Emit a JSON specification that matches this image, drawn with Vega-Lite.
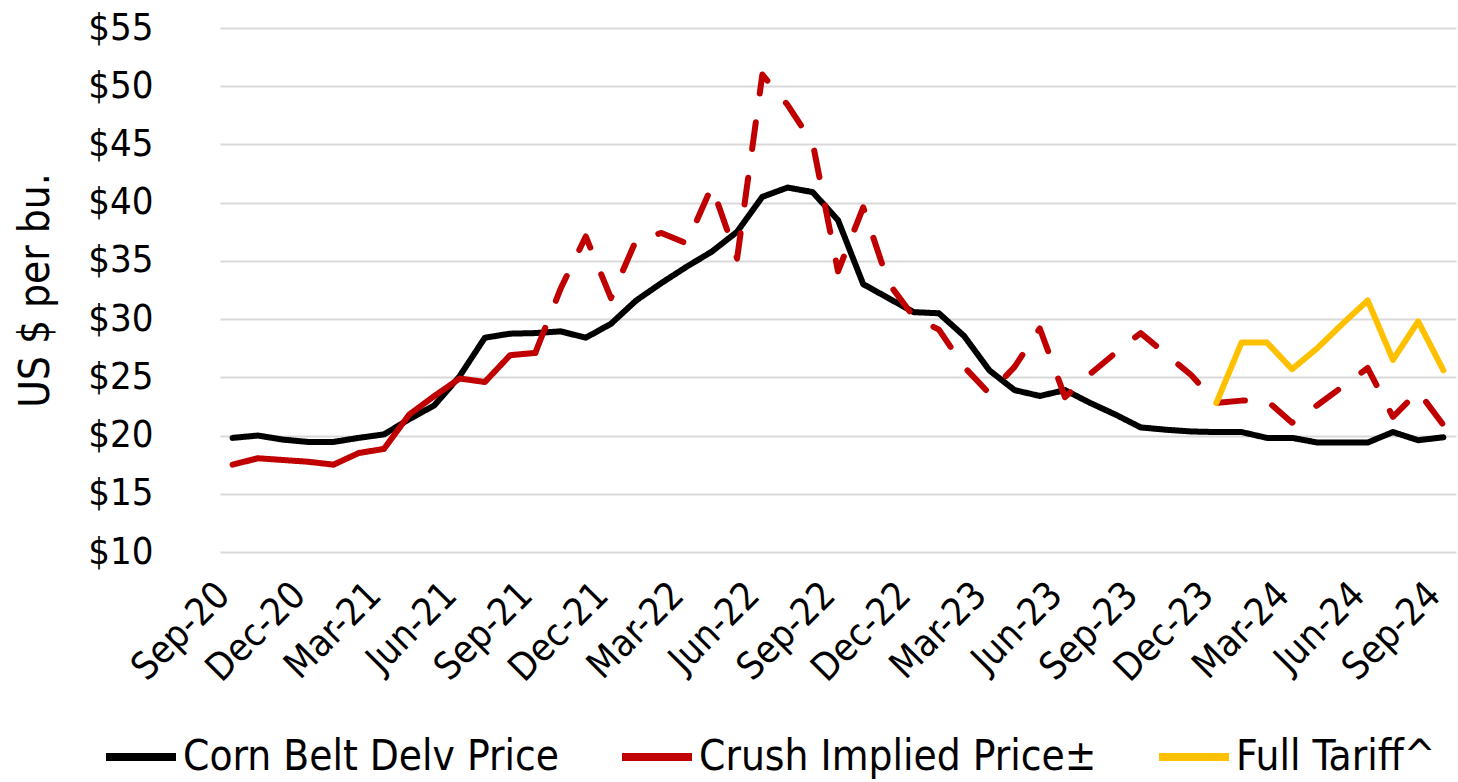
{
  "$schema": "https://vega.github.io/schema/vega-lite/v6.json",
  "width": 1250,
  "height": 524,
  "autosize": {"type": "none"},
  "padding": {"left": 208, "top": 28, "right": 0, "bottom": 230},
  "background": "white",
  "config": {"view": {"stroke": null}, "font": "DejaVu Sans Condensed"},
  "data": {"values": [
    {"month":"2020-09","series":"Corn Belt Delv Price","part":"solid","value":19.8},
    {"month":"2020-10","series":"Corn Belt Delv Price","part":"solid","value":20.0},
    {"month":"2020-11","series":"Corn Belt Delv Price","part":"solid","value":19.65},
    {"month":"2020-12","series":"Corn Belt Delv Price","part":"solid","value":19.45},
    {"month":"2021-01","series":"Corn Belt Delv Price","part":"solid","value":19.45},
    {"month":"2021-02","series":"Corn Belt Delv Price","part":"solid","value":19.8},
    {"month":"2021-03","series":"Corn Belt Delv Price","part":"solid","value":20.1},
    {"month":"2021-04","series":"Corn Belt Delv Price","part":"solid","value":21.4},
    {"month":"2021-05","series":"Corn Belt Delv Price","part":"solid","value":22.6},
    {"month":"2021-06","series":"Corn Belt Delv Price","part":"solid","value":25.1},
    {"month":"2021-07","series":"Corn Belt Delv Price","part":"solid","value":28.4},
    {"month":"2021-08","series":"Corn Belt Delv Price","part":"solid","value":28.75},
    {"month":"2021-09","series":"Corn Belt Delv Price","part":"solid","value":28.8},
    {"month":"2021-10","series":"Corn Belt Delv Price","part":"solid","value":28.95},
    {"month":"2021-11","series":"Corn Belt Delv Price","part":"solid","value":28.4},
    {"month":"2021-12","series":"Corn Belt Delv Price","part":"solid","value":29.6},
    {"month":"2022-01","series":"Corn Belt Delv Price","part":"solid","value":31.6},
    {"month":"2022-02","series":"Corn Belt Delv Price","part":"solid","value":33.1},
    {"month":"2022-03","series":"Corn Belt Delv Price","part":"solid","value":34.5},
    {"month":"2022-04","series":"Corn Belt Delv Price","part":"solid","value":35.8},
    {"month":"2022-05","series":"Corn Belt Delv Price","part":"solid","value":37.5},
    {"month":"2022-06","series":"Corn Belt Delv Price","part":"solid","value":40.5},
    {"month":"2022-07","series":"Corn Belt Delv Price","part":"solid","value":41.3},
    {"month":"2022-08","series":"Corn Belt Delv Price","part":"solid","value":40.9},
    {"month":"2022-09","series":"Corn Belt Delv Price","part":"solid","value":38.5},
    {"month":"2022-10","series":"Corn Belt Delv Price","part":"solid","value":33.0},
    {"month":"2022-11","series":"Corn Belt Delv Price","part":"solid","value":31.8},
    {"month":"2022-12","series":"Corn Belt Delv Price","part":"solid","value":30.6},
    {"month":"2023-01","series":"Corn Belt Delv Price","part":"solid","value":30.5},
    {"month":"2023-02","series":"Corn Belt Delv Price","part":"solid","value":28.55},
    {"month":"2023-03","series":"Corn Belt Delv Price","part":"solid","value":25.6},
    {"month":"2023-04","series":"Corn Belt Delv Price","part":"solid","value":23.9},
    {"month":"2023-05","series":"Corn Belt Delv Price","part":"solid","value":23.4},
    {"month":"2023-06","series":"Corn Belt Delv Price","part":"solid","value":23.9},
    {"month":"2023-07","series":"Corn Belt Delv Price","part":"solid","value":22.8},
    {"month":"2023-08","series":"Corn Belt Delv Price","part":"solid","value":21.8},
    {"month":"2023-09","series":"Corn Belt Delv Price","part":"solid","value":20.7},
    {"month":"2023-10","series":"Corn Belt Delv Price","part":"solid","value":20.5},
    {"month":"2023-11","series":"Corn Belt Delv Price","part":"solid","value":20.35},
    {"month":"2023-12","series":"Corn Belt Delv Price","part":"solid","value":20.3},
    {"month":"2024-01","series":"Corn Belt Delv Price","part":"solid","value":20.3},
    {"month":"2024-02","series":"Corn Belt Delv Price","part":"solid","value":19.8},
    {"month":"2024-03","series":"Corn Belt Delv Price","part":"solid","value":19.8},
    {"month":"2024-04","series":"Corn Belt Delv Price","part":"solid","value":19.4},
    {"month":"2024-05","series":"Corn Belt Delv Price","part":"solid","value":19.4},
    {"month":"2024-06","series":"Corn Belt Delv Price","part":"solid","value":19.4},
    {"month":"2024-07","series":"Corn Belt Delv Price","part":"solid","value":20.3},
    {"month":"2024-08","series":"Corn Belt Delv Price","part":"solid","value":19.6},
    {"month":"2024-09","series":"Corn Belt Delv Price","part":"solid","value":19.85},
    {"month":"2020-09","series":"Crush Implied Price±","part":"solid","value":17.5},
    {"month":"2020-10","series":"Crush Implied Price±","part":"solid","value":18.05},
    {"month":"2020-11","series":"Crush Implied Price±","part":"solid","value":17.9},
    {"month":"2020-12","series":"Crush Implied Price±","part":"solid","value":17.75},
    {"month":"2021-01","series":"Crush Implied Price±","part":"solid","value":17.5},
    {"month":"2021-02","series":"Crush Implied Price±","part":"solid","value":18.5},
    {"month":"2021-03","series":"Crush Implied Price±","part":"solid","value":18.85},
    {"month":"2021-04","series":"Crush Implied Price±","part":"solid","value":21.8},
    {"month":"2021-05","series":"Crush Implied Price±","part":"solid","value":23.4},
    {"month":"2021-06","series":"Crush Implied Price±","part":"solid","value":24.9},
    {"month":"2021-07","series":"Crush Implied Price±","part":"solid","value":24.6},
    {"month":"2021-08","series":"Crush Implied Price±","part":"solid","value":26.9},
    {"month":"2021-09","series":"Crush Implied Price±","part":"solid","value":27.1},
    {"month":"2021-09","series":"Crush Implied Price±","part":"dashed","value":27.1},
    {"month":"2021-10","series":"Crush Implied Price±","part":"dashed","value":32.6},
    {"month":"2021-11","series":"Crush Implied Price±","part":"dashed","value":37.1},
    {"month":"2021-12","series":"Crush Implied Price±","part":"dashed","value":31.8},
    {"month":"2022-01","series":"Crush Implied Price±","part":"dashed","value":36.8},
    {"month":"2022-02","series":"Crush Implied Price±","part":"dashed","value":37.4},
    {"month":"2022-03","series":"Crush Implied Price±","part":"dashed","value":36.5},
    {"month":"2022-04","series":"Crush Implied Price±","part":"dashed","value":41.4},
    {"month":"2022-05","series":"Crush Implied Price±","part":"dashed","value":35.2},
    {"month":"2022-06","series":"Crush Implied Price±","part":"dashed","value":51.0},
    {"month":"2022-07","series":"Crush Implied Price±","part":"dashed","value":48.4},
    {"month":"2022-08","series":"Crush Implied Price±","part":"dashed","value":45.1},
    {"month":"2022-09","series":"Crush Implied Price±","part":"dashed","value":34.1},
    {"month":"2022-10","series":"Crush Implied Price±","part":"dashed","value":39.6},
    {"month":"2022-11","series":"Crush Implied Price±","part":"dashed","value":33.1},
    {"month":"2022-12","series":"Crush Implied Price±","part":"dashed","value":30.2},
    {"month":"2023-01","series":"Crush Implied Price±","part":"dashed","value":29.1},
    {"month":"2023-02","series":"Crush Implied Price±","part":"dashed","value":25.9},
    {"month":"2023-03","series":"Crush Implied Price±","part":"dashed","value":23.6},
    {"month":"2023-04","series":"Crush Implied Price±","part":"dashed","value":25.9},
    {"month":"2023-05","series":"Crush Implied Price±","part":"dashed","value":29.2},
    {"month":"2023-06","series":"Crush Implied Price±","part":"dashed","value":23.3},
    {"month":"2023-07","series":"Crush Implied Price±","part":"dashed","value":25.3},
    {"month":"2023-08","series":"Crush Implied Price±","part":"dashed","value":27.1},
    {"month":"2023-09","series":"Crush Implied Price±","part":"dashed","value":28.8},
    {"month":"2023-10","series":"Crush Implied Price±","part":"dashed","value":27.0},
    {"month":"2023-11","series":"Crush Implied Price±","part":"dashed","value":25.2},
    {"month":"2023-12","series":"Crush Implied Price±","part":"dashed","value":22.8},
    {"month":"2024-01","series":"Crush Implied Price±","part":"dashed","value":23.0},
    {"month":"2024-02","series":"Crush Implied Price±","part":"dashed","value":23.0},
    {"month":"2024-03","series":"Crush Implied Price±","part":"dashed","value":21.1},
    {"month":"2024-04","series":"Crush Implied Price±","part":"dashed","value":22.6},
    {"month":"2024-05","series":"Crush Implied Price±","part":"dashed","value":24.2},
    {"month":"2024-06","series":"Crush Implied Price±","part":"dashed","value":25.8},
    {"month":"2024-07","series":"Crush Implied Price±","part":"dashed","value":21.6},
    {"month":"2024-08","series":"Crush Implied Price±","part":"dashed","value":23.8},
    {"month":"2024-09","series":"Crush Implied Price±","part":"dashed","value":20.9},
    {"month":"2023-12","series":"Full Tariff^","part":"solid","value":22.8},
    {"month":"2024-01","series":"Full Tariff^","part":"solid","value":28.0},
    {"month":"2024-02","series":"Full Tariff^","part":"solid","value":28.0},
    {"month":"2024-03","series":"Full Tariff^","part":"solid","value":25.7},
    {"month":"2024-04","series":"Full Tariff^","part":"solid","value":27.5},
    {"month":"2024-05","series":"Full Tariff^","part":"solid","value":29.6},
    {"month":"2024-06","series":"Full Tariff^","part":"solid","value":31.6},
    {"month":"2024-07","series":"Full Tariff^","part":"solid","value":26.5},
    {"month":"2024-08","series":"Full Tariff^","part":"solid","value":29.8},
    {"month":"2024-09","series":"Full Tariff^","part":"solid","value":25.6}
  ]},
  "mark": {"type": "line", "strokeWidth": 6, "strokeCap": "round", "strokeJoin": "round"},
  "encoding": {
    "x": {
      "field": "month", "type": "ordinal",
      "scale": {"type": "point", "range": [12, 1248]},
      "axis": {
        "values": ["2020-09","2020-12","2021-03","2021-06","2021-09","2021-12","2022-03","2022-06","2022-09","2022-12","2023-03","2023-06","2023-09","2023-12","2024-03","2024-06","2024-09"],
        "labelExpr": "utcFormat(toDate(datum.value + '-01'), '%b-%y')",
        "labelAngle": -45, "labelAlign": "right", "labelBaseline": "middle",
        "labelFont": "DejaVu Sans Condensed", "labelFontSize": 38, "labelColor": "#000000",
        "labelPadding": 37, "labelOffset": -9, "ticks": false, "tickSize": 0, "domain": false, "grid": false,
        "title": null, "labelOverlap": false
      }
    },
    "y": {
      "field": "value", "type": "quantitative",
      "scale": {"domain": [10, 55], "nice": false, "zero": false},
      "axis": {
        "values": [10, 15, 20, 25, 30, 35, 40, 45, 50, 55],
        "format": "$.0f",
        "labelFont": "DejaVu Sans Condensed", "labelFontSize": 38, "labelColor": "#000000",
        "labelPadding": 55, "ticks": false, "tickSize": 0, "domain": false,
        "grid": true, "gridColor": "#d9d9d9", "gridWidth": 2,
        "title": "US $ per bu.", "titleFont": "DejaVu Sans Condensed", "titleFontSize": 42,
        "titleFontWeight": "normal", "titleColor": "#000000", "titlePadding": 30
      }
    },
    "color": {
      "field": "series", "type": "nominal",
      "scale": {"domain": ["Corn Belt Delv Price", "Crush Implied Price±", "Full Tariff^"], "range": ["#000000", "#C00000", "#FFC000"]},
      "legend": {
        "orient": "none", "legendX": -106, "legendY": 690, "direction": "horizontal",
        "title": null, "symbolType": "stroke", "symbolSize": 4900, "symbolStrokeWidth": 8,
        "labelFont": "DejaVu Sans Condensed", "labelFontSize": 42, "labelColor": "#000000",
        "labelLimit": 1000, "labelOffset": 3, "columnPadding": 46
      }
    },
    "strokeDash": {
      "field": "part", "type": "nominal",
      "scale": {"domain": ["solid", "dashed"], "range": [[1, 0], [27, 29]]},
      "legend": null
    }
  }
}
